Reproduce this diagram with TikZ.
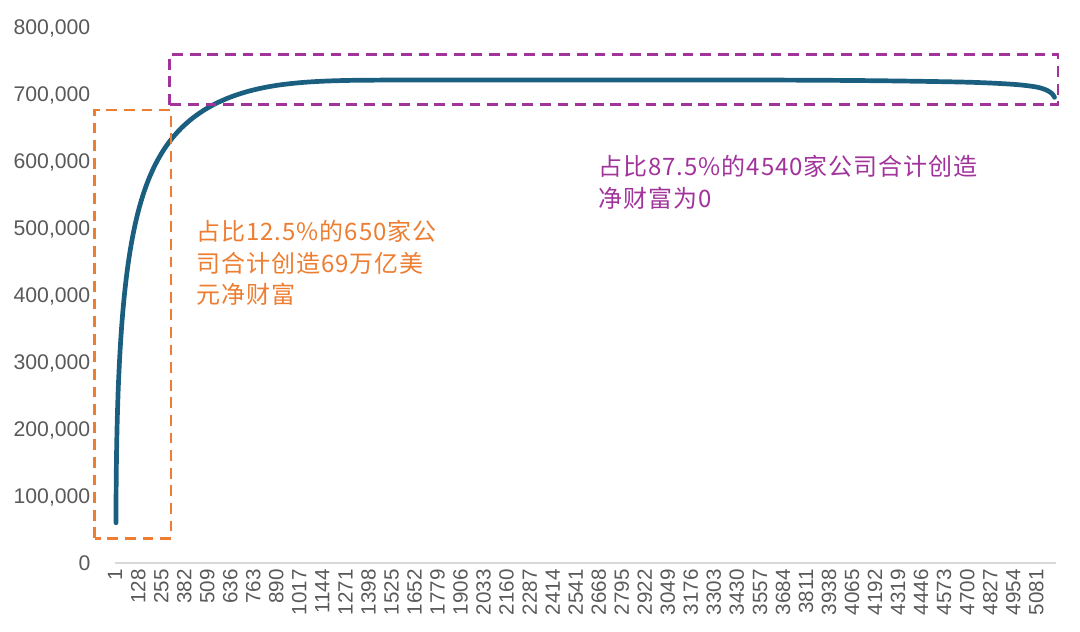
\documentclass[tikz,border=0pt]{standalone}
\usepackage{fontspec}
\setmainfont{Liberation Sans}
\newfontfamily\cjk{Noto Sans CJK SC}[LetterSpace=4]
\usetikzlibrary{calc}
\definecolor{curveblue}{HTML}{1A5F80}
\definecolor{boxorange}{HTML}{ED7D31}
\definecolor{boxpurple}{HTML}{A1339B}
\definecolor{labelgray}{HTML}{595959}
\definecolor{axisgray}{HTML}{D9D9D9}
\tikzset{
  ylab/.style={anchor=east, inner sep=0pt, text depth=0pt, text=labelgray, font=\fontsize{10.6}{12}\selectfont},
  xlab/.style={rotate=90, anchor=east, inner sep=0pt, text depth=0pt, text=labelgray, font=\fontsize{10.3}{12}\selectfont},
  dashbox/.style={line width=1.35pt, dash pattern=on 5.4pt off 3.4pt},
  note/.style={anchor=north west, inner sep=0pt, align=left, font=\cjk\fontsize{12}{15.75}\selectfont}
}

\begin{document}
\begin{tikzpicture}[x=0.09065pt,y=0.335pt]
		\useasboundingbox (-57.5pt,-34pt) rectangle (482.5pt,281.5pt);
		%%%%% AXES %%%%%
		\draw[axisgray, line width=0.75pt] (0,0) -- (5190,0);
		\node[ylab, xshift=-12.15pt] (y0) at (0,0) {0};
		\foreach \v in {1,...,8}
			\node[ylab, xshift=-12.15pt] (y\v) at (0,\v*100) {\v00,000};
		\foreach \i in {0,...,40} {
			\pgfmathtruncatemacro\n{1+127*\i}
			\node[xlab] (x\i) at ($(\n-0.5,0)+(0,-3pt)$) {\n};
		}
		
		%%%%% CURVE %%%%%
		\draw[curveblue, line width=2.35pt, line cap=round, line join=round]
			(5.5,60)
			-- plot[domain=0.1:15.5, samples=160, variable=\t]
				({(1+\t*\t)/0.1813}, {(40+443*(1-exp(-pow(\t*\t/15.5,0.53)-pow(\t*\t/164,2.8))))/0.67})
			-- plot[smooth, tension=0.5] coordinates {
			(1500,720.8) (2600,721) (3600,720.8) (4200,719.8) (4700,717.6)
			(4950,714.5) (5080,710.5) (5140,705.5) (5170,700) (5182,695)};
		
		%%%%% BOXES %%%%%
		\draw[dashbox, boxorange] (-113,37) rectangle (309,676);
		\draw[dashbox, boxpurple] (301,684) rectangle (5201,759);
		
		\node[note, text=boxorange] (leftnote) at (447,512) {占比12.5\%的650家公\\司合计创造69万亿美\\元净财富};
		\node[note, text=boxpurple] (rightnote) at (2664,609) {占比87.5\%的4540家公司合计创造\\净财富为0};
	\end{tikzpicture}
\end{document}
